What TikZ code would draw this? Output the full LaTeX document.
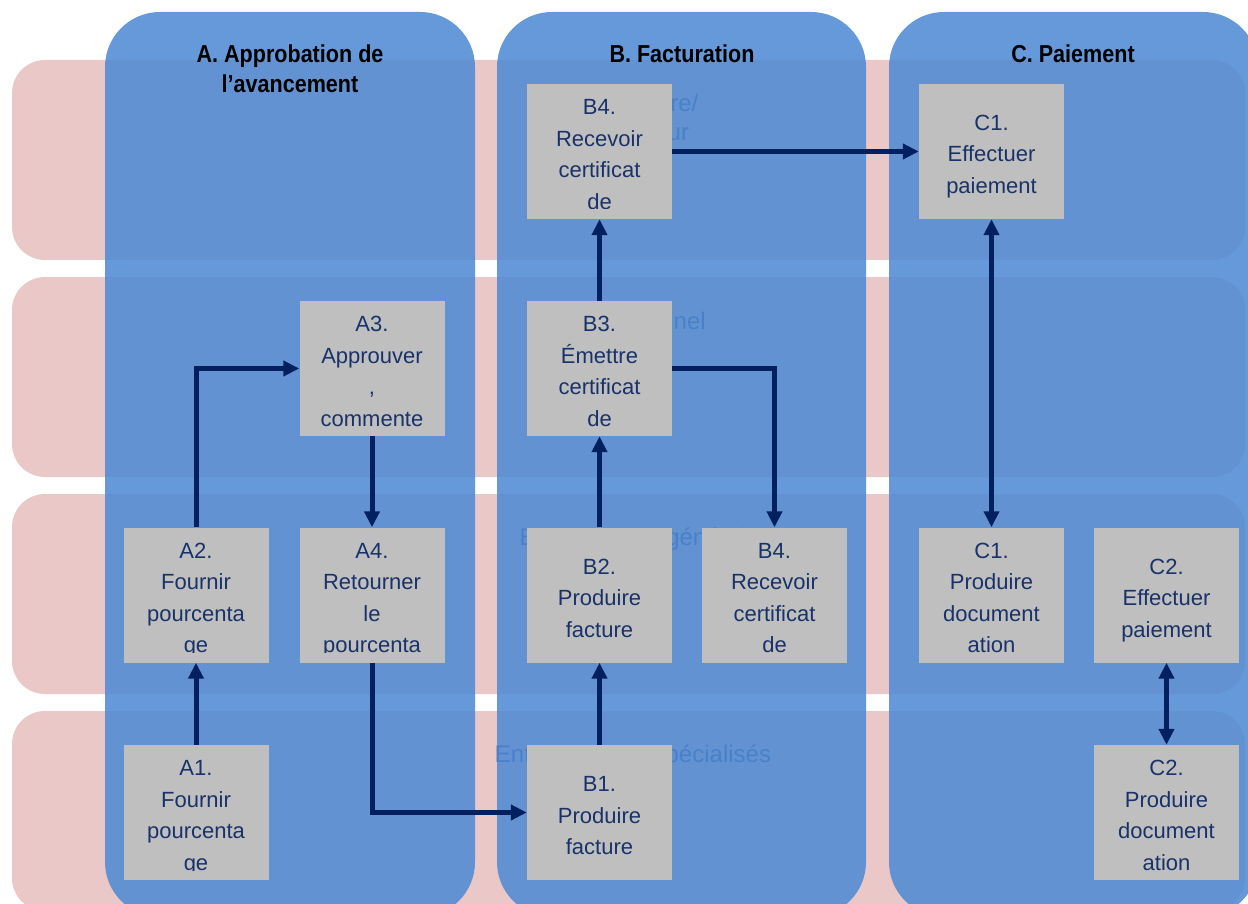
\documentclass[tikz,border=0pt]{standalone}
\usepackage{fontspec}
\setmainfont{Liberation Sans}
\newfontfamily\headfont[FakeStretch=0.88]{Liberation Sans}
\usetikzlibrary{arrows.meta}

\definecolor{lanepink}{RGB}{234,200,200}
\definecolor{colblue}{RGB}{79,138,212}
\definecolor{boxgray}{RGB}{191,191,191}
\definecolor{boxink}{RGB}{25,50,105}
\definecolor{flowink}{RGB}{0,32,96}
\definecolor{laneink}{RGB}{31,73,125}

\tikzset{
  lane/.style={fill=lanepink, rounded corners=33},
  lanelabel/.style={anchor=base, inner sep=0pt, text=laneink,
    font=\fontsize{24}{28}\selectfont},
  phase/.style={fill=colblue, fill opacity=0.87, rounded corners=55},
  header/.style={anchor=base, inner sep=0pt, text=black,
    font=\headfont\bfseries\fontsize{24.5}{30}\selectfont},
  procnode/.style={rectangle, fill=boxgray, inner sep=0pt,
    minimum width=145pt, minimum height=135pt},
  proctext/.style={anchor=base, inner sep=0pt, text=boxink,
    font=\fontsize{22}{31.5}\selectfont},
  flow/.style={draw=flowink, line width=5pt,
    -{Triangle[length=16pt,width=15pt]}},
  flowboth/.style={draw=flowink, line width=5pt,
    {Triangle[length=16pt,width=15pt]}-{Triangle[length=16pt,width=15pt]}},
}

% process box: name, centre x, centre y, number of lines, lines
\newcommand\procbox[5]{%
  \node[procnode] (#1) at (#2,#3) {};
  \begin{scope}
    \clip (#2-72.5,#3-57.5) rectangle (#2+72.5,#3+57.5);
    \foreach \bl [count=\i] in {#5} {
      \node[proctext] (#1-\i) at (#2, #3+10.5-#4*15.75+15.75+\i*31.5-31.5) {\bl};
    }
  \end{scope}
}

\begin{document}
\begin{tikzpicture}[x=1pt, y=-1pt]
  \useasboundingbox (0,0) rectangle (1248,904);
  \clip (0,0) rectangle (1248,904);
  \fill[white] (0,0) rectangle (1248,904);

  % swim lanes
  \foreach \ltop in {60,277,494,711}
    \fill[lane] (12,\ltop) rectangle (1245,\ltop+200);

  % lane titles
  \node[lanelabel] (lab1a) at (633,112) {Propriétaire/};
  \node[lanelabel] (lab1b) at (633,141) {Promoteur};
  \node[lanelabel] (lab2) at (633,329) {Professionnel};
  \node[lanelabel] (lab3) at (633,545) {Entrepreneur général};
  \node[lanelabel] (lab4) at (633,762) {Entrepreneurs spécialisés};

  % phase columns
  \fill[phase] (105,12) rectangle (475,917);
  \fill[phase] (497,12) rectangle (866,917);
  \fill[phase] (889,12) rectangle (1258,917);

  % phase titles
  \node[header] (hA1) at (290,63) {A. Approbation de};
  \node[header] (hA2) at (290,93) {l’avancement};
  \node[header] (hB) at (682,63) {B. Facturation};
  \node[header] (hC) at (1073,63) {C. Paiement};

  % process steps
  \procbox{b4t}{599.5}{151.5}{4}{B4., Recevoir, certificat, de}
  \procbox{c1t}{991.5}{151.5}{3}{C1., Effectuer, paiement}
  \procbox{a3}{372}{368.5}{4}{A3., Approuver, {,}, commente}
  \procbox{b3}{599.5}{368.5}{4}{B3., Émettre, certificat, de}
  \procbox{a2}{196}{595}{4}{A2., Fournir, pourcenta, ge}
  \procbox{a4}{372}{595}{4}{A4., Retourner, le, pourcenta}
  \procbox{b2}{599.5}{595}{3}{B2., Produire, facture}
  \procbox{b4m}{774.5}{595}{4}{B4., Recevoir, certificat, de}
  \procbox{c1m}{991.5}{595}{4}{C1., Produire, document, ation}
  \procbox{c2m}{1166.5}{595}{3}{C2., Effectuer, paiement}
  \procbox{a1}{196}{812.5}{4}{A1., Fournir, pourcenta, ge}
  \procbox{b1}{599.5}{812.5}{3}{B1., Produire, facture}
  \procbox{c2b}{1166.5}{812.5}{4}{C2., Produire, document, ation}

  % flow
  \draw[flow] (a1.north) -- (a2.south);
  \draw[flow] (a2.north) |- (a3.west);
  \draw[flow] (a3.south) -- (a4.north);
  \draw[flow] (a4.south) |- (b1.west);
  \draw[flow] (b1.north) -- (b2.south);
  \draw[flow] (b2.north) -- (b3.south);
  \draw[flow] (b3.north) -- (b4t.south);
  \draw[flow] (b3.east) -| (b4m.north);
  \draw[flow] (b4t.east) -- (c1t.west);
  \draw[flowboth] (c1t.south) -- (c1m.north);
  \draw[flowboth] (c2m.south) -- (c2b.north);
\end{tikzpicture}
\end{document}
